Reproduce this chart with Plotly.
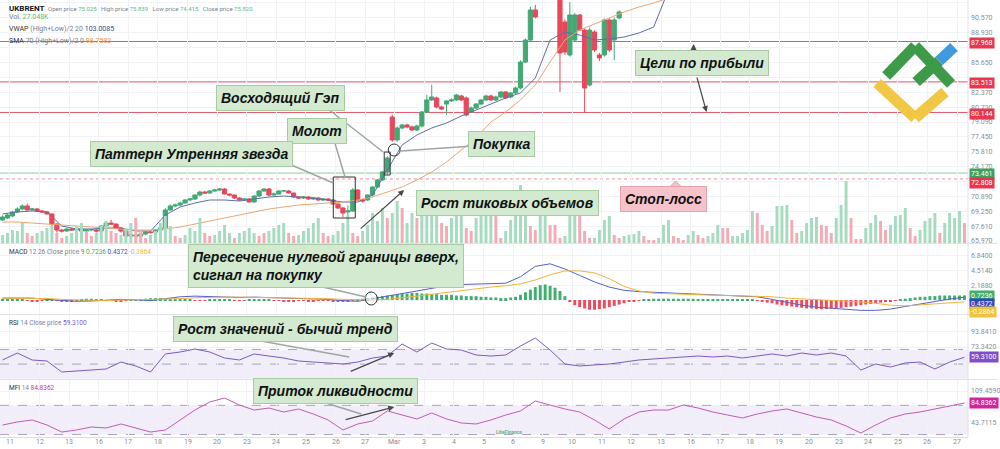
import plotly.graph_objects as go

W, H = 1000, 449
MR, MB = 30, 12
PW, PH = W - MR, H - MB


def px(x):
    return x / PW


def py(y):
    return 1 - y / PH


# ---------------- data ----------------
day_labels = ["11", "12", "13", "16", "17", "18", "19", "20", "23", "24", "25", "26", "27", "Mar",
              "3", "4", "5", "6", "9", "10", "11", "12", "13", "16", "17", "18", "19", "20",
              "23", "24", "25", "26", "27"]

candle_open = [
    68.29, 68.51, 68.73, 69.17, 69.50, 69.83, 69.39, 69.50, 69.28, 69.17,
    68.95, 67.84, 67.18, 67.07, 67.29, 67.18, 67.29, 67.07, 67.18, 67.18,
    67.07, 67.62, 67.95, 67.84, 67.40, 67.07, 66.52, 66.63, 66.52, 66.74,
    66.96, 66.96, 67.18, 67.40, 69.39, 69.83, 69.94, 70.16, 70.49, 70.60,
    71.04, 71.37, 71.26, 71.48, 71.59, 71.70, 71.15, 71.04, 70.71, 70.49,
    70.60, 70.27, 70.93, 71.48, 71.70, 71.04, 71.15, 71.48, 71.48, 71.26,
    70.82, 70.71, 70.82, 70.60, 70.71, 70.49, 70.60, 70.49, 70.05, 69.61,
    69.17, 69.28, 71.59, 70.49, 70.49, 71.04, 71.92, 72.70, 73.58, 79.64,
    77.11, 78.43, 78.76, 78.54, 78.21, 78.65, 80.19, 81.52, 81.74, 80.74,
    81.07, 81.41, 81.52, 81.96, 81.74, 80.19, 80.63, 81.07, 81.52, 81.96,
    81.52, 81.85, 82.40, 81.85, 82.29, 82.84, 85.70, 88.13, 91.44, 92.80,
    93.60, 94.50, 94.00, 93.40, 90.11, 86.48, 88.13, 90.89, 89.23, 83.17,
    89.01, 86.48, 86.48, 90.34, 88.13, 90.56]
candle_close = [
    68.62, 68.84, 69.17, 69.50, 69.83, 69.39, 69.50, 69.28, 69.17, 68.95,
    67.84, 67.18, 67.07, 67.29, 67.18, 67.29, 67.07, 67.18, 67.24, 67.07,
    67.62, 67.95, 67.84, 67.40, 67.07, 66.52, 66.63, 66.52, 66.74, 66.96,
    66.90, 67.18, 67.40, 69.39, 69.83, 69.94, 70.16, 70.49, 70.60, 71.04,
    71.37, 71.26, 71.48, 71.59, 71.70, 71.15, 71.04, 70.71, 70.49, 70.60,
    70.27, 70.93, 71.48, 71.70, 71.04, 71.15, 71.48, 71.52, 71.26, 70.82,
    70.71, 70.82, 70.60, 70.71, 70.49, 70.60, 70.49, 70.05, 69.61, 69.06,
    69.28, 71.59, 70.49, 70.38, 71.04, 71.92, 72.70, 73.58, 75.12, 77.11,
    78.43, 78.76, 78.54, 78.21, 78.65, 80.19, 81.52, 81.85, 80.74, 80.52,
    81.41, 81.52, 82.07, 81.52, 79.86, 80.63, 81.07, 81.52, 81.96, 81.52,
    81.85, 82.40, 81.74, 82.29, 82.84, 85.70, 88.13, 91.44, 90.67, 93.60,
    94.50, 94.00, 93.40, 86.70, 86.81, 90.89, 90.89, 89.23, 82.84, 89.23,
    87.03, 86.15, 90.34, 87.03, 90.34, 91.22]
candle_high = [
    68.80, 69.00, 69.30, 69.70, 70.00, 70.10, 69.60, 69.60, 69.40, 69.30,
    69.00, 67.90, 67.30, 67.40, 67.40, 67.40, 67.40, 67.30, 67.30, 67.30,
    67.70, 68.10, 68.30, 67.90, 67.50, 67.20, 66.80, 66.70, 66.80, 67.00,
    67.10, 67.30, 67.50, 69.60, 70.00, 70.10, 70.30, 70.60, 70.70, 71.10,
    71.50, 71.50, 71.60, 71.70, 71.80, 71.80, 71.20, 71.10, 70.80, 70.70,
    70.70, 71.00, 71.60, 71.80, 71.80, 71.30, 71.60, 71.60, 71.60, 71.30,
    70.90, 70.90, 70.90, 70.80, 70.80, 70.70, 70.70, 70.60, 70.10, 69.70,
    69.90, 71.80, 71.70, 70.60, 71.10, 72.00, 72.80, 73.70, 75.30, 79.90,
    78.60, 78.90, 78.90, 78.70, 78.80, 80.30, 82.10, 83.20, 81.90, 80.90,
    81.50, 81.70, 82.20, 82.10, 81.90, 80.80, 81.20, 81.60, 82.10, 82.10,
    82.00, 82.50, 82.50, 82.40, 83.00, 85.90, 88.30, 91.80, 92.00, 93.90,
    94.80, 94.70, 94.20, 93.60, 90.40, 92.30, 91.10, 91.00, 89.40, 89.50,
    89.20, 86.70, 90.50, 90.50, 90.60, 91.40]
candle_low = [
    68.20, 68.40, 68.60, 69.10, 69.40, 69.30, 69.30, 69.20, 69.10, 68.90,
    67.60, 66.90, 66.90, 67.00, 67.10, 67.10, 67.00, 67.00, 67.10, 66.90,
    67.00, 67.50, 67.80, 67.30, 66.90, 66.40, 66.40, 66.40, 66.40, 66.60,
    66.80, 66.90, 67.10, 67.30, 69.30, 69.70, 69.80, 70.10, 70.40, 70.50,
    70.90, 71.20, 71.20, 71.40, 71.50, 71.10, 70.90, 70.60, 70.40, 70.40,
    70.20, 70.20, 70.80, 71.40, 70.90, 71.00, 71.10, 71.40, 71.20, 70.70,
    70.60, 70.60, 70.50, 70.50, 70.40, 70.40, 70.40, 70.00, 69.50, 68.60,
    68.80, 69.20, 70.40, 70.20, 70.40, 70.90, 71.80, 72.60, 73.30, 76.90,
    76.90, 78.30, 78.40, 78.10, 78.10, 78.50, 80.10, 81.40, 80.60, 80.40,
    79.90, 81.30, 81.40, 81.40, 79.70, 80.10, 80.50, 81.00, 81.40, 81.40,
    81.40, 81.70, 81.60, 81.70, 82.20, 82.70, 85.60, 88.00, 90.50, 92.60,
    93.40, 93.80, 93.20, 82.40, 86.50, 86.30, 88.00, 89.10, 80.08, 83.00,
    86.80, 85.80, 86.30, 86.80, 85.90, 90.40]

# moving averages, sampled twice a day
vwap = [68.95, 69.17, 69.28, 69.17, 67.62, 67.29, 67.29, 67.40, 67.40, 67.07,
        67.07, 68.84, 69.72, 70.16, 70.49, 70.49, 70.38, 70.60, 70.82, 70.93,
        70.82, 70.71, 70.49, 70.27, 70.27, 71.04, 73.80, 76.55, 77.66, 78.43,
        78.98, 79.75, 80.41, 81.07, 81.74, 82.29, 83.94, 88.13, 89.01, 88.68,
        88.13, 88.24, 88.46, 88.90, 89.56, 93.64]
sma = [68.06, 68.06, 67.95, 67.84, 67.73, 67.62, 67.51, 67.40, 67.29, 67.18,
       67.18, 67.29, 67.51, 67.84, 68.17, 68.51, 68.84, 69.17, 69.50, 69.72,
       69.94, 70.05, 70.16, 70.27, 70.49, 70.82, 71.37, 71.92, 72.70, 73.58,
       74.68, 76.00, 77.33, 79.09, 80.19, 81.52, 83.17, 85.70, 88.13, 89.23,
       89.89, 90.56, 91.22, 91.77, 92.21, 92.76]

# tick volume (thousands), six bars a day
volume = [8, 10, 13, 12, 20, 10, 7, 10, 12, 15,
          17, 10, 5, 7, 10, 17, 20, 12, 7, 10,
          17, 22, 12, 10, 8, 15, 20, 25, 12, 5,
          8, 12, 20, 27, 17, 7, 5, 8, 15, 12,
          25, 10, 7, 8, 12, 18, 10, 5, 10, 12,
          15, 10, 7, 10, 12, 15, 18, 20, 10, 7,
          8, 12, 15, 20, 25, 10, 7, 8, 12, 20,
          28, 10, 7, 12, 18, 30, 22, 35, 25, 30,
          42, 35, 20, 30, 25, 28, 40, 48, 52, 20,
          17, 25, 30, 35, 15, 12, 25, 30, 35, 40,
          33, 5, 12, 23, 33, 58, 43, 17, 13, 33,
          47, 18, 18, 5, 7, 27, 48, 40, 12, 5,
          5, 13, 23, 27, 8, 5, 7, 8, 9, 12,
          7, 3, 3, 5, 18, 23, 7, 5, 3, 8,
          12, 8, 5, 7, 10, 18, 15, 15, 7, 7,
          10, 13, 32, 30, 18, 12, 17, 37, 37, 38,
          23, 10, 12, 20, 25, 26, 18, 17, 10, 25,
          38, 62, 25, 4, 4, 15, 20, 28, 22, 13,
          18, 27, 28, 35, 15, 7, 13, 22, 25, 30,
          10, 20, 30, 25, 32, 20]
volume_up = [1, 1, 1, 1, 1, 0, 0, 1, 1, 1,
             1, 0, 0, 1, 1, 1, 1, 0, 0, 1,
             1, 1, 0, 0, 1, 1, 1, 0, 0, 0,
             1, 1, 1, 1, 1, 0, 0, 1, 1, 1,
             1, 0, 0, 1, 1, 1, 1, 0, 1, 1,
             1, 1, 0, 0, 1, 1, 1, 1, 0, 0,
             1, 1, 1, 1, 1, 0, 0, 1, 1, 1,
             1, 0, 0, 1, 1, 1, 1, 1, 0, 1,
             1, 0, 1, 1, 0, 1, 1, 1, 1, 0,
             0, 1, 1, 1, 0, 0, 1, 1, 1, 1,
             0, 0, 1, 1, 1, 1, 1, 0, 0, 1,
             1, 0, 0, 0, 1, 1, 1, 0, 0, 0,
             1, 1, 1, 1, 0, 0, 1, 1, 1, 1,
             0, 0, 0, 1, 1, 1, 0, 0, 0, 1,
             1, 0, 0, 1, 1, 1, 0, 0, 1, 1,
             1, 1, 1, 0, 0, 0, 1, 1, 1, 1,
             0, 0, 1, 1, 1, 1, 0, 0, 0, 1,
             1, 1, 0, 0, 0, 1, 1, 1, 0, 0,
             1, 1, 1, 1, 0, 0, 1, 1, 1, 1,
             0, 1, 1, 1, 1, 0]

macd_hist = [0.2, 0.2, 0.3, 0.3, 0.2, -0.1, -0.2, -0.2, -0.1, 0.1,
             0.1, -0.1, -0.2, -0.2, -0.2, -0.1, 0.1, 0.2, 0.2, 0.1,
             0.1, -0.1, -0.1, -0.2, -0.2, -0.1, 0.1, 0.1, 0.1, 0.2,
             0.3, 0.3, 0.3, 0.2, 0.2, 0.2, 0.1, 0.1, 0.1, -0.1,
             -0.1, -0.1, 0.1, 0.1, 0.1, 0.1, 0.1, -0.1, -0.1, -0.1,
             0.1, 0.1, 0.1, 0.1, 0.1, -0.1, -0.1, -0.2, -0.2, -0.2,
             -0.1, -0.1, -0.2, -0.2, -0.1, -0.1, -0.1, -0.2, -0.3, -0.3,
             -0.2, -0.1, 0.1, 0.2, 0.3,
             0.4, 0.5, 0.6, 0.7, 0.8, 0.9, 1.0, 1.0, 1.1, 1.1,
             1.0, 1.0, 0.9, 0.9, 0.8, 0.8, 0.8, 0.7, 0.7, 0.6,
             0.6, 0.6, 0.5, 0.5, 0.4,
             0.4, 0.3, 0.3, 0.4, 0.5,
             0.8, 1.2, 1.6, 2.0, 2.3, 2.4, 2.2, 1.9, 1.4,
             0.6, -0.3, -0.8, -1.1, -1.3, -1.5, -1.5, -1.4, -1.3, -1.1, -0.9, -0.7, -0.5,
             -0.3, -0.2, -0.1, 0.1, 0.1, 0.2, 0.2, 0.2, 0.2, 0.2,
             0.2, 0.2, 0.2, 0.2, 0.1, 0.1, 0.1, 0.1, 0.1, 0.1,
             0.1, 0.1, 0.1, 0.1, 0.1, 0.1, -0.1,
             -0.2, -0.4, -0.5, -0.7, -0.8, -0.9, -1.0, -1.1, -1.2, -1.3,
             -1.3, -1.4, -1.4, -1.4, -1.3, -1.3, -1.2, -1.1, -1.0, -0.9,
             -0.8, -0.7, -0.6, -0.5, -0.4, -0.3, -0.2, -0.1,
             0.1, 0.2, 0.3, 0.4, 0.5, 0.5, 0.6, 0.6, 0.7, 0.7,
             0.7, 0.7, 0.7, 0.72]
macd_line = [0.3, 0.35, 0.3, 0.1, -0.1, -0.2, -0.15, 0.0, 0.1, 0.05,
             -0.1, 0.2, 0.5, 0.6, 0.5, 0.45, 0.4, 0.45, 0.4, 0.35,
             0.3, 0.2, 0.1, -0.1, -0.2, 0.2, 0.6, 1.1, 1.5, 1.9,
             2.2, 2.4, 2.5, 2.5, 2.6, 3.6, 5.2, 5.6, 4.8, 3.8,
             2.8, 2.0, 1.5, 1.3, 1.2, 1.1, 1.0, 0.9, 0.9, 0.8,
             0.7, 0.5, 0.1, -0.4, -0.8, -1.1, -1.3, -1.5, -1.6, -1.6,
             -1.4, -1.0, -0.6, -0.2, 0.15, 0.4372]
macd_signal = [0.2, 0.25, 0.3, 0.25, 0.1, 0.0, -0.1, -0.1, 0.0, 0.05,
               0.0, 0.05, 0.2, 0.35, 0.45, 0.45, 0.45, 0.42, 0.4, 0.38,
               0.35, 0.3, 0.2, 0.1, 0.0, 0.0, 0.1, 0.3, 0.6, 0.9,
               1.2, 1.5, 1.8, 2.0, 2.2, 2.5, 3.1, 3.9, 4.5, 4.5,
               4.2, 3.3, 2.1, 1.4, 1.05, 0.95, 0.85, 0.75, 0.75, 0.7,
               0.65, 0.55, 0.5, 0.3, 0.2, 0.1, 0.0, -0.1, -0.3, -0.5,
               -0.8, -0.9, -0.75, -0.6, -0.45, -0.2864]

rsi = [55.6, 65.1, 55.6, 54.2, 39.2, 40.5, 41.9, 43.3, 52.8, 47.4,
       39.2, 63.8, 66.5, 70.6, 66.5, 58.3, 55.6, 63.8, 61.0, 58.3,
       54.2, 52.8, 51.5, 50.1, 52.8, 58.3, 61.0, 77.4, 66.5, 78.8,
       70.6, 69.2, 62.4, 61.0, 62.4, 74.7, 85.6, 69.2, 50.1, 47.4,
       48.8, 50.1, 52.8, 55.6, 57.0, 58.3, 59.7, 61.0, 59.7, 61.0,
       58.3, 61.0, 63.8, 61.0, 65.1, 62.4, 65.1, 61.0, 41.9, 50.1,
       46.0, 51.5, 52.8, 43.3, 52.8, 59.31]
mfi = [39.6, 45.8, 49.9, 39.6, 25.2, 29.3, 35.5, 33.4, 41.7, 33.4,
       25.2, 29.3, 49.9, 70.4, 86.9, 95.1, 80.7, 70.4, 74.5, 66.3,
       72.5, 62.2, 49.9, 29.3, 41.7, 47.8, 68.4, 60.1, 52.0, 64.3,
       52.0, 43.7, 41.7, 49.9, 60.1, 68.4, 88.9, 80.7, 72.5, 66.3,
       49.9, 31.4, 52.0, 66.3, 70.4, 70.4, 80.7, 74.5, 66.3, 60.1,
       54.0, 62.2, 68.4, 72.5, 64.3, 56.0, 49.9, 37.6, 23.1, 39.6,
       54.0, 62.2, 66.3, 72.5, 78.6, 84.84]

price_ticks = [65.970, 67.610, 69.250, 70.890, 72.530, 74.170, 75.810, 77.450, 79.090,
               80.730, 82.370, 84.010, 85.650, 87.290, 88.930, 90.570, 92.210]
price_ticks_covered = [72.530, 84.010, 87.290]   # hidden behind the level badges
macd_ticks = [6.8400, 4.5140, 2.1880, -0.1380]
macd_ticks_covered = [-0.1380]
rsi_ticks = [93.8410, 73.3420, 52.8430]
rsi_ticks_covered = [52.8430]
mfi_ticks = [109.4590, 76.5850, 43.7115]
mfi_ticks_covered = [76.5850]

target_levels = [87.968, 83.513, 80.144]
entry_level = 73.461
stop_level = 72.808

# ---------------- positions along the time axis ----------------
BAR_START = -0.25
cx = [BAR_START + i / 6 for i in range(len(candle_open))]
vx = [BAR_START + i / 6 for i in range(len(volume))]
hx = [BAR_START + i / 6 for i in range(len(macd_hist))]
lx = [BAR_START + i / 2 for i in range(len(macd_line))]
day_x = list(range(len(day_labels)))

UP, DOWN = "#43a874", "#e8475c"
VUP, VDOWN = "#a6dbc0", "#f5abb5"
GRID = "#f0f2f6"
TICKF = dict(family="Roboto", size=7, color="#8a8e99")

fig = go.Figure()
fig.add_bar(x=vx, y=volume, width=0.1, yaxis="y5",
            marker=dict(color=[VUP if u else VDOWN for u in volume_up], line_width=0),
            hoverinfo="skip")
fig.add_candlestick(x=cx, open=candle_open, high=candle_high, low=candle_low, close=candle_close,
                    increasing=dict(line=dict(color=UP, width=1), fillcolor=UP),
                    decreasing=dict(line=dict(color=DOWN, width=1), fillcolor=DOWN),
                    whiskerwidth=0, yaxis="y")
fig.add_scatter(x=lx[:len(vwap)], y=vwap, mode="lines", line=dict(color="#5e6ea6", width=1), yaxis="y")
fig.add_scatter(x=lx[:len(sma)], y=sma, mode="lines", line=dict(color="#eba572", width=1), yaxis="y")

fig.add_bar(x=hx, y=macd_hist, width=0.1, yaxis="y2",
            marker=dict(color=["#3fae6e" if v >= 0 else "#ef4b5b" for v in macd_hist], line_width=0))
fig.add_scatter(x=lx, y=macd_line, mode="lines", line=dict(color="#5561c9", width=1), yaxis="y2")
fig.add_scatter(x=lx, y=macd_signal, mode="lines", line=dict(color="#f2b33d", width=1), yaxis="y2")

fig.add_scatter(x=lx, y=rsi, mode="lines", line=dict(color="#7d5bbf", width=1), yaxis="y3")
fig.add_scatter(x=lx, y=mfi, mode="lines", line=dict(color="#c05cb4", width=1), yaxis="y4")


def yax(domain, rng, ticks, covered, fmt):
    return dict(domain=domain, range=rng, side="right", tickvals=ticks,
                ticktext=["" if t in covered else fmt.format(t) for t in ticks],
                tickfont=TICKF, ticks="", ticklabelstandoff=2,
                showgrid=True, gridcolor=GRID, gridwidth=1, zeroline=False,
                showline=False, fixedrange=True, anchor="x")


fig.update_layout(
    width=W, height=H, margin=dict(l=0, r=MR, t=0, b=MB),
    paper_bgcolor="white", plot_bgcolor="white", showlegend=False,
    boxgap=0.15, boxgroupgap=0,
    xaxis=dict(domain=[0, 1], range=[-0.337, 32.37], anchor="y4",
               tickvals=day_x, showticklabels=False,
               ticks="", showgrid=True, gridcolor=GRID, zeroline=False,
               showline=True, linecolor="#d9dce3", rangeslider=dict(visible=False)),
    yaxis=yax([py(243), 1], [65.75, 92.54], price_ticks, price_ticks_covered, "{:.3f}"),
    yaxis5=dict(overlaying="y", range=[0, 243], visible=False, fixedrange=True),
    yaxis2=yax([py(314), py(244)], [-2.16, 8.66], macd_ticks, macd_ticks_covered, "{:.4f}"),
    yaxis3=yax([py(379), py(315)], [29.63, 117.05], rsi_ticks, rsi_ticks_covered, "{:.4f}"),
    yaxis4=yax([0, py(380)], [14.93, 132.1], mfi_ticks, mfi_ticks_covered, "{:.4f}"),
)

shapes = []
for y in (243.5, 314.5, 379.5):
    shapes.append(dict(type="line", xref="paper", yref="paper", x0=0, x1=1.03, y0=py(y), y1=py(y),
                       line=dict(color="#dfe2e8", width=1)))
shapes.append(dict(type="line", xref="paper", yref="paper", x0=1, x1=1, y0=0, y1=1,
                   line=dict(color="#dfe2e8", width=1)))
for lvl in target_levels:
    shapes.append(dict(type="line", xref="paper", yref="y", x0=0, x1=1, y0=lvl, y1=lvl,
                       line=dict(color="#e5536a", width=1), layer="below"))
shapes.append(dict(type="line", xref="paper", yref="y", x0=0, x1=1, y0=entry_level, y1=entry_level,
                   line=dict(color="#8ccc9f", width=1), layer="below"))
shapes.append(dict(type="line", xref="paper", yref="y", x0=0, x1=1, y0=stop_level, y1=stop_level,
                   line=dict(color="#ef8d9c", width=1, dash="dot"), layer="below"))
shapes.append(dict(type="rect", xref="paper", yref="y3", x0=0, x1=1, y0=30, y1=70,
                   fillcolor="rgba(149,117,205,0.13)", line_width=0, layer="below"))
for lvl in (70, 50):
    shapes.append(dict(type="line", xref="paper", yref="y3", x0=0, x1=1, y0=lvl, y1=lvl,
                       line=dict(color="#a9a3b8", width=1, dash="dash"), layer="below"))
shapes.append(dict(type="rect", xref="paper", yref="y4", x0=0, x1=1, y0=20, y1=80,
                   fillcolor="rgba(149,117,205,0.13)", line_width=0, layer="below"))
for lvl in (80, 20):
    shapes.append(dict(type="line", xref="paper", yref="y4", x0=0, x1=1, y0=lvl, y1=lvl,
                       line=dict(color="#a9a3b8", width=1, dash="dash"), layer="below"))


def pline(x0, y0, x1, y1, color="#9ea6a2", width=1.5):
    shapes.append(dict(type="line", xref="paper", yref="paper", x0=px(x0), y0=py(y0),
                       x1=px(x1), y1=py(y1), line=dict(color=color, width=width)))


shapes.append(dict(type="rect", xref="paper", yref="paper", x0=px(334), x1=px(356), y0=py(218), y1=py(177),
                   line=dict(color="#333", width=1)))
shapes.append(dict(type="rect", xref="paper", yref="paper", x0=px(385), x1=px(391), y0=py(175), y1=py(152),
                   line=dict(color="#333", width=1)))
shapes.append(dict(type="circle", xref="paper", yref="paper", x0=px(389), x1=px(401), y0=py(156), y1=py(144),
                   line=dict(color="#333", width=1)))
shapes.append(dict(type="circle", xref="paper", yref="paper", x0=px(366), x1=px(378), y0=py(305), y1=py(292),
                   line=dict(color="#333", width=1), fillcolor="rgba(255,255,255,0.6)"))
pline(330, 110, 384, 152)
pline(335, 141, 346, 178)
pline(285, 162, 334, 183)
pline(474, 146, 401, 151)
pline(310, 284, 367, 297)
pline(250, 339, 350, 357)
pline(320, 401, 362, 414)
shapes.append(dict(type="path", xref="paper", yref="paper",
                   path=f"M {px(669)} {py(189)} L {px(677)} {py(181)} L {px(685)} {py(189)} Z",
                   fillcolor="#f6c3ca", line=dict(color="#e6a3ad", width=1)))
for (x0, y0, x1, y1, col) in [(888, 76, 917, 46, "#3c9a48"), (917, 46, 953, 84, "#3c9a48"),
                               (918, 82, 941, 61, "#3c9a48"), (941, 61, 956, 47, "#3f9bdc"),
                               (879, 83, 917, 118, "#f1c845"), (917, 118, 947, 92, "#f1c845")]:
    pline(x0, y0, x1, y1, color=col, width=11)

fig.update_layout(shapes=shapes)

ann = []

# day labels along the bottom axis
for dx, lab in zip(day_x, day_labels):
    ann.append(dict(xref="x", yref="paper", x=dx, y=py(442.5), text=lab, showarrow=False,
                    xanchor="center", yanchor="middle", font=TICKF))


def text(x, y, t, size=7, color="#7c808c", anchor="left"):
    ann.append(dict(xref="paper", yref="paper", x=px(x), y=py(y), text=t, showarrow=False,
                    xanchor=anchor, yanchor="middle", font=dict(family="Roboto", size=size, color=color)))


G = "#5bb98a"
text(7, 8, "<b>UKBRENT</b>", size=8, color="#131722")
text(46, 8, f"Open price <span style='color:{G}'>75.025</span>   High price <span style='color:{G}'>75.839</span>"
            f"   Low price <span style='color:{G}'>74.415</span>   Close price <span style='color:{G}'>75.820</span>", size=6)
text(7, 17, f"Vol. <span style='color:{G}'>27.048K</span>", size=7)
text(7, 29, "<span style='color:#333'>VWAP</span> (High+Low)/2 20 <span style='color:#3b4a8a'>103.0085</span>", size=7)
text(7, 41, "<span style='color:#333'>SMA</span> 70 (High+Low)/2 0 <span style='color:#e8924c'>98.7583</span>", size=7)
text(7, 252, "<span style='color:#333'>MACD</span> 12 26 Close price 9 <span style='color:#3fae6e'>0.7236</span> "
             "<span style='color:#3b49b8'>0.4372</span> <span style='color:#f2b33d'>-0.2864</span>", size=6.5)
text(7, 323, "<span style='color:#333'>RSI</span> 14 Close price <span style='color:#7d5bbf'>59.3100</span>", size=6.5)
text(7, 388, "<span style='color:#333'>MFI</span> 14 <span style='color:#c0399f'>84.8362</span>", size=6.5)
text(510, 432, "<b>LiteFinance</b>", size=5, color="#5bb98a", anchor="center")


def badge(y, t, bg, fg="white"):
    ann.append(dict(xref="paper", yref="paper", x=1, y=py(y), text=t, showarrow=False, xanchor="left",
                    yanchor="middle", xshift=1, bgcolor=bg, borderpad=1,
                    font=dict(family="Roboto", size=7, color=fg)))


badge(43, "87.968", "#e8364f")
badge(83, "83.513", "#e8364f")
badge(114, "80.144", "#e8364f")
badge(174, "73.461", "#3f9f5f")
badge(183, "72.808", "#e8364f")
badge(296, "0.7236", "#3fae6e")
badge(304, "0.4372", "#2f45c8")
badge(312, "-0.2864", "#f2c23d")
badge(357, "59.3100", "#7e4fc9")
badge(403, "84.8362", "#d0269c")


def callout(x, y, t, bg="#d3ead0", border="#a9cba4", align="center"):
    ann.append(dict(xref="paper", yref="paper", x=px(x), y=py(y), text=f"<b><i>{t}</i></b>", showarrow=False,
                    xanchor="center", yanchor="middle", align=align, bgcolor=bg, bordercolor=border,
                    borderwidth=1, borderpad=4, font=dict(family="Liberation Sans", size=14, color="#111")))


callout(281, 98, "Восходящий Гэп")
callout(318, 131, "Молот")
callout(192, 154, "Паттерн Утренняя звезда")
callout(503, 144, "Покупка")
callout(509, 203, "Рост тиковых объемов")
callout(703, 63, "Цели по прибыли")
callout(665, 199, "Стоп-лосс", bg="#f6c3ca", border="#e6a3ad")
callout(327, 266, "Пересечение нулевой границы вверх,<br>сигнал на покупку", align="left")
callout(286, 329, "Рост значений - бычий тренд")
callout(336, 391, "Приток ликвидности")


def arrow(x0, y0, x1, y1):
    ann.append(dict(xref="paper", yref="paper", x=px(x1), y=py(y1), ax=x0 - x1, ay=y0 - y1, text="",
                    showarrow=True, arrowhead=2, arrowsize=1, arrowwidth=1.2, arrowcolor="#4a4a4a"))


arrow(360, 230, 405, 190)
arrow(350, 372, 395, 353)
arrow(345, 420, 395, 407)
arrow(695, 51, 695, 44)
arrow(698, 76, 708, 112)

fig.update_layout(annotations=ann)
fig.write_html("out.html", config={"displayModeBar": False},
               post_script="document.body.style.margin='0';document.body.style.overflow='hidden';")
